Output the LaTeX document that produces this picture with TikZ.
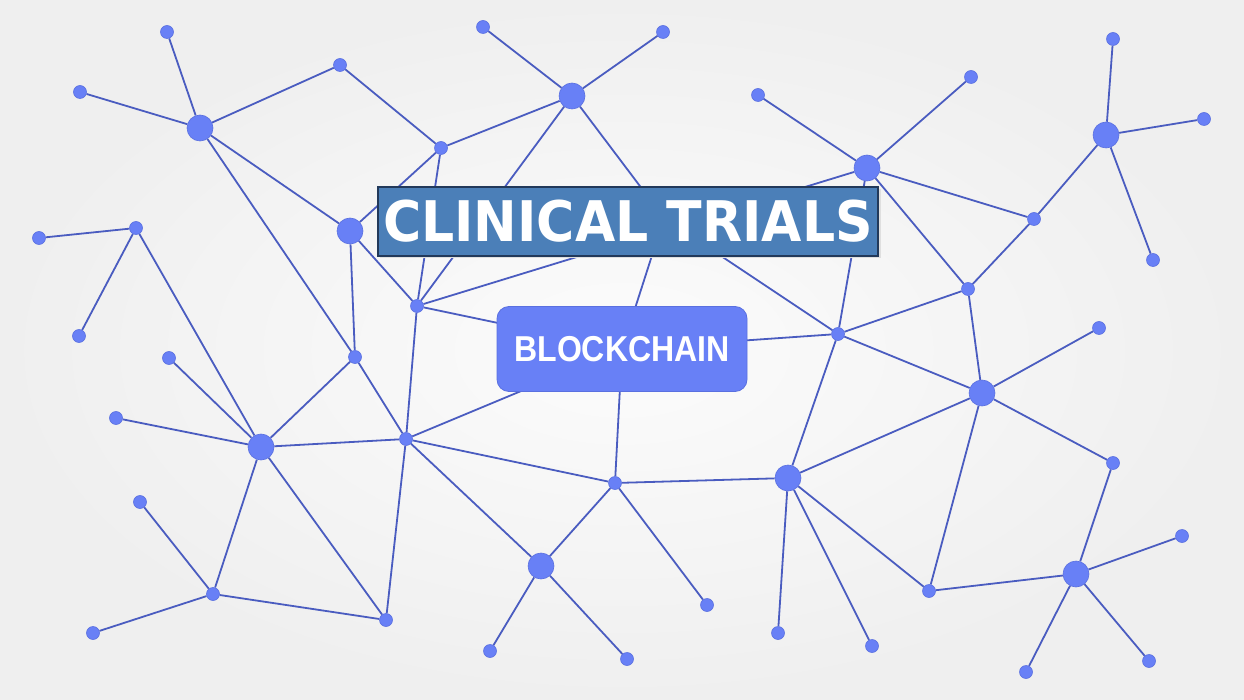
\documentclass[tikz,border=0pt]{standalone}
\usepackage{fontspec}
\usepackage{graphicx}
\newfontfamily\titlefont{DejaVu Sans}
\newfontfamily\bcfont{Liberation Sans}
\definecolor{nodeblue}{HTML}{6880F6}
\definecolor{nodeedge}{HTML}{5A70E0}
\definecolor{linkblue}{HTML}{4A5CC0}
\definecolor{titlefill}{HTML}{4B7FB8}
\definecolor{titleborder}{HTML}{22395A}
\definecolor{bgedge}{HTML}{EFEFEF}
\definecolor{bgcenter}{HTML}{FCFCFC}
\pgfdeclarelayer{bg}
\pgfdeclarelayer{edges}
\pgfsetlayers{bg,edges,main}
\tikzset{
  big/.style={circle, fill=nodeblue, draw=nodeedge, line width=0.6pt, minimum size=26pt, inner sep=0pt},
  small/.style={circle, fill=nodeblue, draw=nodeedge, line width=0.6pt, minimum size=13pt, inner sep=0pt},
  link/.style={draw=linkblue, line width=1.8pt},
  titlebox/.style={rectangle, fill=titlefill, draw=titleborder, line width=1.2pt, minimum width=500pt, minimum height=69pt, inner sep=0pt, text=white},
  bcbox/.style={rectangle, rounded corners=12pt, fill=nodeblue, draw=nodeedge, line width=0.8pt, minimum width=250pt, minimum height=85pt, inner sep=0pt, text=white},
}
\begin{document}
\begin{tikzpicture}[x=1pt, y=-1pt]
\begin{pgfonlayer}{bg}
  \shade[inner color=bgcenter, outer color=bgedge] (0,0) rectangle (1244,700);
\end{pgfonlayer}
\useasboundingbox (0,0) rectangle (1244,700);

% big nodes
\node[big] (A1) at (200,128) {};
\node[big] (A2) at (572,96) {};
\node[big] (A3) at (350,231) {};
\node[big] (A4) at (867,168) {};
\node[big] (A5) at (1106,135) {};
\node[big] (A6) at (261,447) {};
\node[big] (A7) at (982,393) {};
\node[big] (A8) at (788,478) {};
\node[big] (A9) at (541,566) {};
\node[big] (A10) at (1076,574) {};

% small nodes
\node[small] (s1) at (167,32) {};
\node[small] (s2) at (80,92) {};
\node[small] (s3) at (340,65) {};
\node[small] (s4) at (441,148) {};
\node[small] (s5) at (483,27) {};
\node[small] (s6) at (663,32) {};
\node[small] (s7) at (758,95) {};
\node[small] (s8) at (971,77) {};
\node[small] (s9) at (1113,39) {};
\node[small] (s10) at (1204,119) {};
\node[small] (s11) at (1034,219) {};
\node[small] (s12) at (1153,260) {};
\node[small] (s13) at (968,289) {};
\node[small] (s14) at (838,334) {};
\node[small] (s15) at (39,238) {};
\node[small] (s16) at (136,228) {};
\node[small] (s17) at (79,336) {};
\node[small] (s18) at (417,306) {};
\node[small] (s19) at (355,357) {};
\node[small] (s20) at (169,358) {};
\node[small] (s21) at (116,418) {};
\node[small] (s22) at (406,439) {};
\node[small] (s23) at (140,502) {};
\node[small] (s24) at (213,594) {};
\node[small] (s25) at (93,633) {};
\node[small] (s26) at (386,620) {};
\node[small] (s27) at (615,483) {};
\node[small] (s28) at (707,605) {};
\node[small] (s29) at (490,651) {};
\node[small] (s30) at (627,659) {};
\node[small] (s31) at (778,633) {};
\node[small] (s32) at (872,646) {};
\node[small] (s33) at (929,591) {};
\node[small] (s34) at (1099,328) {};
\node[small] (s35) at (1113,463) {};
\node[small] (s36) at (1182,536) {};
\node[small] (s37) at (1026,672) {};
\node[small] (s38) at (1149,661) {};

% hidden junction behind the title
\coordinate (H) at (664,218);

% boxes
\fill[gray!25] (380,189) rectangle (880.5,258.5);
\node[titlebox] (title) at (628,221.5) {\titlefont\bfseries\fontsize{56}{60}\selectfont\scalebox{0.93}[1]{CLINICAL TRIALS}};
\node[bcbox] (bc) at (622,349) {\bcfont\bfseries\fontsize{36}{40}\selectfont\scalebox{0.89}[1]{BLOCKCHAIN}};

\begin{pgfonlayer}{edges}
\path[link]
  (A1) -- (s1)  (A1) -- (s2)  (A1) -- (s3)  (A1) -- (A3)  (A1) -- (s19)
  (s3) -- (s4)
  (s4) -- (A2)  (s4) -- (A3)  (s4) -- (s18)
  (A2) -- (s5)  (A2) -- (s6)  (A2) -- (s18)  (A2) -- (H)
  (H) -- (s14)  (H) -- (bc.center)
  (A3) -- (s19)  (A3) -- (s18)
  (s18) -- (s22)  (s18) -- (A4)  (s18) -- (bc.center)
  (s19) -- (s22)  (s19) -- (A6)
  (s16) -- (s15)  (s16) -- (s17)  (s16) -- (A6)
  (A6) -- (s20)  (A6) -- (s21)  (A6) -- (s22)  (A6) -- (s24)  (A6) -- (s26)
  (s24) -- (s23)  (s24) -- (s25)  (s24) -- (s26)
  (s22) -- (s26)  (s22) -- (A9)  (s22) -- (s27)  (s22) -- (bc.center)
  (s27) -- (bc.center)  (s27) -- (A9)  (s27) -- (s28)  (s27) -- (A8)
  (A9) -- (s29)  (A9) -- (s30)
  (A8) -- (s31)  (A8) -- (s32)  (A8) -- (s33)  (A8) -- (A7)  (A8) -- (s14)
  (s14) -- (bc.center)  (s14) -- (s13)  (s14) -- (A7)  (s14) -- (A4)
  (A4) -- (s7)  (A4) -- (s8)  (A4) -- (s11)  (A4) -- (s13)
  (s11) -- (A5)  (s11) -- (s13)
  (A5) -- (s9)  (A5) -- (s10)  (A5) -- (s12)
  (s13) -- (A7)
  (A7) -- (s34)  (A7) -- (s35)  (A7) -- (s33)
  (s33) -- (A10)
  (A10) -- (s35)  (A10) -- (s36)  (A10) -- (s37)  (A10) -- (s38);
\end{pgfonlayer}
\end{tikzpicture}
\end{document}
